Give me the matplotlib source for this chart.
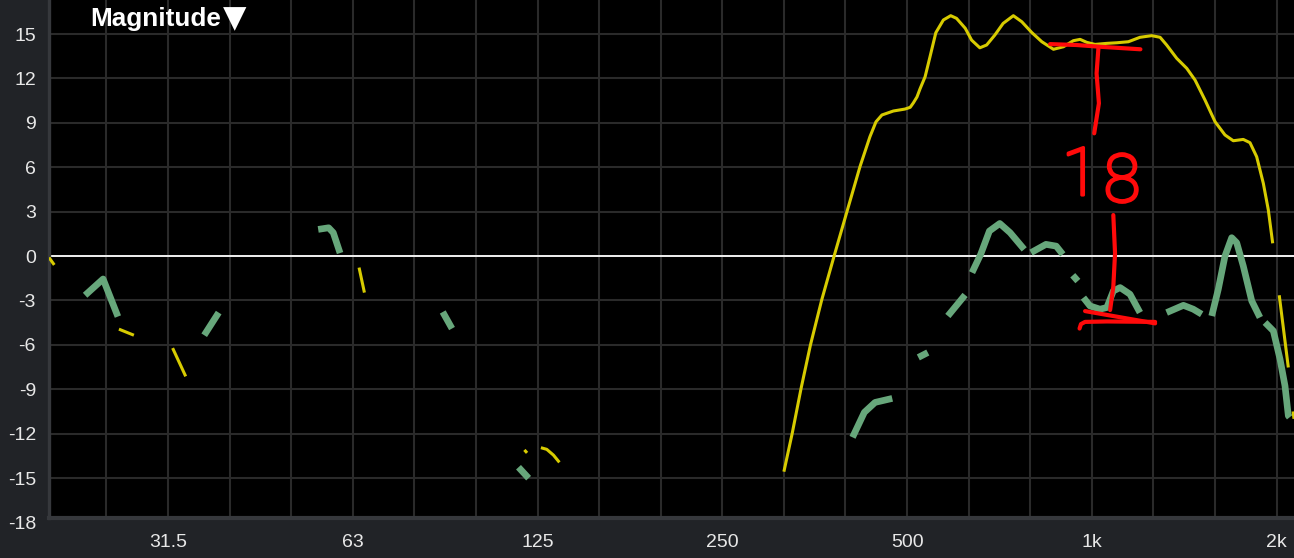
import numpy as np
import matplotlib
matplotlib.use("Agg")
import matplotlib.pyplot as plt
import matplotlib.patheffects as pe
from matplotlib.ticker import NullLocator
from matplotlib.transforms import blended_transform_factory

nan = np.nan

# ---------------- data ----------------
yellow_freq = [
    20.0, 20.4, nan,
    26.0, 27.5, nan,
    31.8, 33.4, nan,
    64.0, 65.3, nan,
    119.0, 120.2, nan,
    126.6, 129.4, 132.7, 135.7, nan,
    315, 325, 336, 348, 363, 380, 399, 419, 435, 445, 455, 475, 496, 506,
    512, 519, 525, 535, 545, 557, 573, 589, 602, 622, 637, 657, 674, 695,
    717, 745, 769, 798, 829, 866, 899, 933, 957, 981, 1012, 1058, 1098,
    1147, 1198, 1252, 1292, 1324, 1375, 1428, 1473, 1529, 1588, 1648, 1700,
    1765, 1810, 1856, 1903, 1939, 1971, nan,
    2020, 2090, nan,
    2128, 2135,
]
yellow_db = [
    -0.1, -0.6, nan,
    -4.94, -5.35, nan,
    -6.22, -8.13, nan,
    -0.78, -2.47, nan,
    -13.1, -13.3, nan,
    -12.95, -13.06, -13.45, -13.94, nan,
    -14.57, -11.98, -8.94, -6.01, -2.97, -0.05, 2.99, 6.03, 8.06, 9.07,
    9.53, 9.80, 9.93, 10.05, 10.35, 10.75, 11.3, 12.11, 13.47, 15.09, 15.95,
    16.24, 16.06, 15.39, 14.59, 14.07, 14.26, 14.93, 15.72, 16.24, 15.83,
    15.11, 14.48, 13.97, 14.14, 14.55, 14.64, 14.44, 14.30, 14.37, 14.41,
    14.48, 14.78, 14.89, 14.78, 14.26, 13.36, 12.68, 11.89, 10.54, 9.07,
    8.18, 7.79, 7.88, 7.66, 6.71, 4.91, 3.11, 0.86, nan,
    -2.65, -7.53, nan,
    -10.5, -11.0,
]

green_freq = [
    22.9, 24.5, 25.9, nan,
    35.8, 37.8, nan,
    54.9, 57.1, 58.1, 59.6, nan,
    87.6, 90.7, nan,
    116.4, 120.9, nan,
    407.5, 426, 443.5, 473, nan,
    521.6, 540.5, nan,
    582.7, 621.6, nan,
    638, 659, 681, 708, 736, 776, nan,
    796, 842, 875, 897, nan,
    931, 949, nan,
    969, 993, 1031, 1058, 1084, 1112, 1154, 1198, nan,
    1324, 1410, 1463, 1510, nan,
    1568, 1607, 1648, 1690, 1722, 1765, 1822, 1879, nan,
    1915, 1976, 2026, 2064, 2090, 2100,
]
green_db = [
    -2.65, -1.55, -4.09, nan,
    -5.35, -3.82, nan,
    1.8, 1.91, 1.58, 0.2, nan,
    -3.78, -4.9, nan,
    -14.27, -15.01, nan,
    -12.25, -10.56, -9.89, -9.62, nan,
    -6.85, -6.52, nan,
    -4.05, -2.63, nan,
    -1.12, 0.11, 1.69, 2.2, 1.58, 0.45, nan,
    0.23, 0.79, 0.67, 0.11, nan,
    -1.30, -1.69, nan,
    -2.81, -3.37, -3.59, -3.48, -2.36, -2.13, -2.58, -3.82, nan,
    -3.82, -3.33, -3.59, -3.93, nan,
    -4.05, -2.25, 0.0, 1.24, 0.9, -0.67, -3.03, -4.15, nan,
    -4.49, -5.06, -6.97, -8.77, -10.79, -10.9,
]

# hand-drawn red annotation strokes (freq, dB)
red_top_f = [855, 943, 1033, 1200]
red_top_db = [14.32, 14.26, 14.14, 13.97]
red_upper_f = [1025, 1018, 1027, 1009]
red_upper_db = [14.03, 12.34, 10.32, 8.29]
red_lower_f = [1084, 1091, 1084, 1071]
red_lower_db = [2.77, 0.18, -2.07, -3.65]
red_base1_f = [975, 1268]
red_base1_db = [-3.72, -4.55]
red_base2_f = [955, 960, 975, 1058, 1268]
red_base2_db = [-4.9, -4.6, -4.45, -4.42, -4.45]
annot_text = ["1", "8"]
annot_f = [958, 1120]
annot_db = [4.12, 3.67]

y_tick_values = [-15, -12, -9, -6, -3, 0, 3, 6, 9, 12, 15]
y_extra_label = -18
x_label_freqs = [31.25, 62.5, 125, 250, 500, 1000, 2000]
x_label_texts = ["31.5", "63", "125", "250", "500", "1k", "2k"]
title_text = "Magnitude"
title_marker = "\u25BC"

# ---------------- style ----------------
W, H = 1294, 558
BAR = "#212327"
BORDER = "#36383c"
GRID = "#2a2a2a"
LABEL = "#e8e8e8"
FONT = ["Liberation Sans", "DejaVu Sans"]

fig = plt.figure(figsize=(W / 100, H / 100), dpi=100, facecolor=BAR)
ax_left, ax_bottom_px = 49, 517.7
ax = fig.add_axes([ax_left / W, (H - ax_bottom_px) / H, (W - ax_left) / W, ax_bottom_px / H])
ax.set_facecolor("black")
ax.set_xscale("log")
ax.set_xlim(20.0, 2135)
ax.set_ylim(-17.68, 17.3)

grid_freqs = 1000 * 2.0 ** (np.arange(-16, 4) / 3.0)
labels = []
for g in grid_freqs:
    lab = ""
    for lf, lt in zip(x_label_freqs, x_label_texts):
        if abs(g / lf - 1) < 0.01:
            lab = lt
    labels.append(lab)
ax.set_xticks(grid_freqs)
ax.set_xticklabels(labels)
ax.xaxis.set_minor_locator(NullLocator())
ax.set_yticks(y_tick_values)
ax.set_yticklabels([str(v) for v in y_tick_values])
ax.tick_params(axis="both", length=0, colors=LABEL, labelsize=14)
ax.tick_params(axis="y", pad=9.4)
ax.tick_params(axis="x", pad=12)
for lab in ax.get_xticklabels() + ax.get_yticklabels():
    lab.set_fontfamily(FONT)

ax.grid(True, color=GRID, lw=1.5, zorder=0)
ax.set_axisbelow(True)
for s in ["top", "right"]:
    ax.spines[s].set_visible(False)
ax.spines["left"].set_color(BORDER)
ax.spines["left"].set_linewidth(2.4)
ax.spines["bottom"].set_color(BORDER)
ax.spines["bottom"].set_linewidth(3.0)

tr = blended_transform_factory(ax.transAxes, ax.transData)
ax.text(-13 / (W - ax_left), y_extra_label, str(y_extra_label), transform=tr,
        ha="right", va="center_baseline", color=LABEL, fontsize=14,
        family=FONT, clip_on=False)

ax.axhline(0, color="white", lw=1.3, zorder=2)

ax.plot(yellow_freq, yellow_db, color="#d7cb00", lw=2.2,
        solid_capstyle="butt", solid_joinstyle="round", zorder=3)
ax.plot(green_freq, green_db, color="#67a77b", lw=4.8,
        solid_capstyle="butt", solid_joinstyle="round", zorder=4)

red = "#ff0a0a"
for fx, dy in [(red_top_f, red_top_db), (red_upper_f, red_upper_db),
               (red_lower_f, red_lower_db), (red_base1_f, red_base1_db),
               (red_base2_f, red_base2_db)]:
    ax.plot(fx, dy, color=red, lw=3.0, solid_capstyle="round",
            solid_joinstyle="round", zorder=6)
for t, fx, dy in zip(annot_text, annot_f, annot_db):
    ax.text(fx, dy, t, color=red, fontsize=48, fontweight="light",
            family=["Roboto", "DejaVu Sans"], ha="center", va="baseline",
            zorder=6,
            path_effects=[pe.withStroke(linewidth=2.2, foreground=red)])

fig.text(90 / W, 1 - 26 / H, title_text, color="white", fontsize=18.8,
         fontweight="bold", family=FONT, ha="left", va="baseline")
fig.text(223 / W, 1 - 27 / H, title_marker, color="white", fontsize=22,
         family=["DejaVu Sans"], ha="left", va="baseline")

fig.savefig("out.png", dpi=100, facecolor=BAR)
